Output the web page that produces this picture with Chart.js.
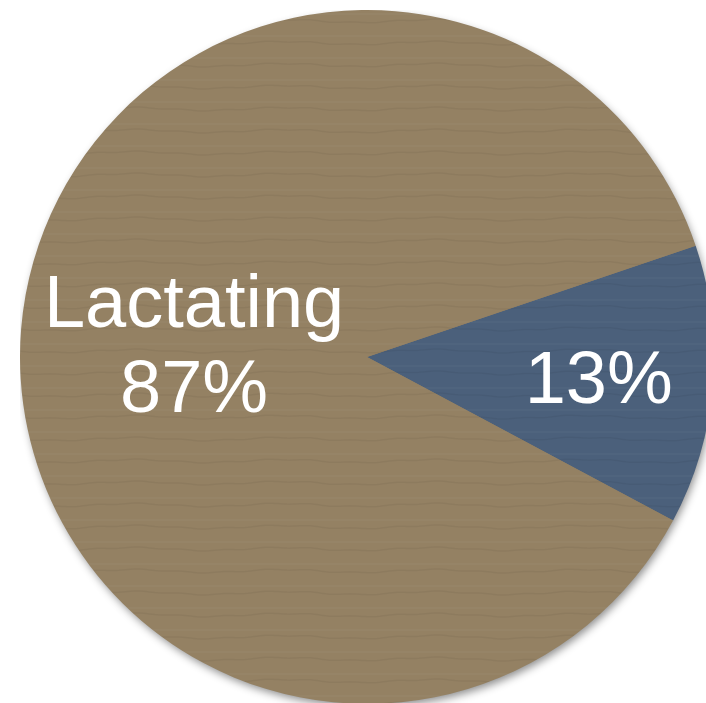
<!DOCTYPE html>
<html lang="en">
<head>
  <meta charset="UTF-8" />
  <title>Lactating share</title>
  <script src="https://cdn.jsdelivr.net/npm/chart.js"></script>
  <style>
    html, body { margin: 0; padding: 0; background: #fff; overflow: hidden; width: 706px; height: 703px; }
    #wrap { position: absolute; left: 20px; top: 10px; width: 694px; height: 694px; }
  </style>
</head>
<body>

<div id="wrap"><canvas id="pieChart"></canvas></div>

<script>
  // slice data (blue first, then tan)
  const categories = ['', 'Lactating'];
  const values = [13, 87];
  const sliceColors = ['#4b607b', '#948163'];
  const labelRadius = [0.67, 0.5];

  // paper-like texture: base colour with faint horizontal wavy streaks
  function texture(base) {
    const c = document.createElement('canvas');
    c.width = 300; c.height = 22;
    const g = c.getContext('2d');
    g.fillStyle = base;
    g.fillRect(0, 0, c.width, c.height);
    g.strokeStyle = 'rgba(0,0,0,0.045)';
    g.lineWidth = 1.5;
    g.beginPath();
    for (let x = 0; x <= c.width; x += 3) {
      const y = 11 + Math.sin(x / 300 * Math.PI * 4) * 1.5 + Math.sin(x / 300 * Math.PI * 14) * 0.6;
      x === 0 ? g.moveTo(x, y) : g.lineTo(x, y);
    }
    g.stroke();
    g.strokeStyle = 'rgba(255,255,255,0.04)';
    g.beginPath();
    g.moveTo(0, 4); g.lineTo(c.width, 4);
    g.stroke();
    return g.createPattern(c, 'repeat');
  }

  // one soft drop shadow under the whole pie
  const shadowPlugin = {
    id: 'pieShadow',
    beforeDatasetsDraw(chart) {
      const arc = chart.getDatasetMeta(0).data[0];
      if (!arc) return;
      const ctx = chart.ctx;
      ctx.save();
      ctx.shadowColor = 'rgba(0,0,0,0.45)';
      ctx.shadowBlur = 9;
      ctx.shadowOffsetX = 2;
      ctx.shadowOffsetY = 4;
      ctx.fillStyle = sliceColors[1];
      ctx.beginPath();
      ctx.arc(arc.x, arc.y, arc.outerRadius - 1, 0, Math.PI * 2);
      ctx.fill();
      ctx.restore();
    }
  };

  // white labels inside the slices
  const sliceLabels = {
    id: 'sliceLabels',
    afterDatasetsDraw(chart) {
      const ctx = chart.ctx;
      const arcs = chart.getDatasetMeta(0).data;
      const total = values.reduce((a, b) => a + b, 0);
      const size = 74;
      const lh = 85;
      ctx.save();
      ctx.fillStyle = '#ffffff';
      ctx.textAlign = 'center';
      ctx.textBaseline = 'alphabetic';
      ctx.font = size + 'px "Liberation Sans", Arial, sans-serif';
      arcs.forEach((arc, i) => {
        const mid = (arc.startAngle + arc.endAngle) / 2;
        const r = arc.outerRadius * labelRadius[i];
        const x = arc.x + Math.cos(mid) * r;
        const y = arc.y + Math.sin(mid) * r;
        const pct = Math.round(values[i] / total * 100) + '%';
        const lines = categories[i] ? [categories[i], pct] : [pct];
        lines.forEach((t, k) => {
          const cy = y + (k - (lines.length - 1) / 2) * lh;
          ctx.fillText(t, x, cy + size * 0.36);
        });
      });
      ctx.restore();
    }
  };

  new Chart(document.getElementById('pieChart'), {
    type: 'pie',
    data: {
      labels: categories,
      datasets: [{
        data: values,
        backgroundColor: sliceColors.map(texture),
        borderWidth: 0
      }]
    },
    options: {
      responsive: true,
      maintainAspectRatio: false,
      animation: false,
      rotation: 71.3,
      layout: { padding: 0 },
      plugins: {
        legend: { display: false },
        tooltip: { enabled: false }
      }
    },
    plugins: [shadowPlugin, sliceLabels]
  });
</script>
</body>
</html>
